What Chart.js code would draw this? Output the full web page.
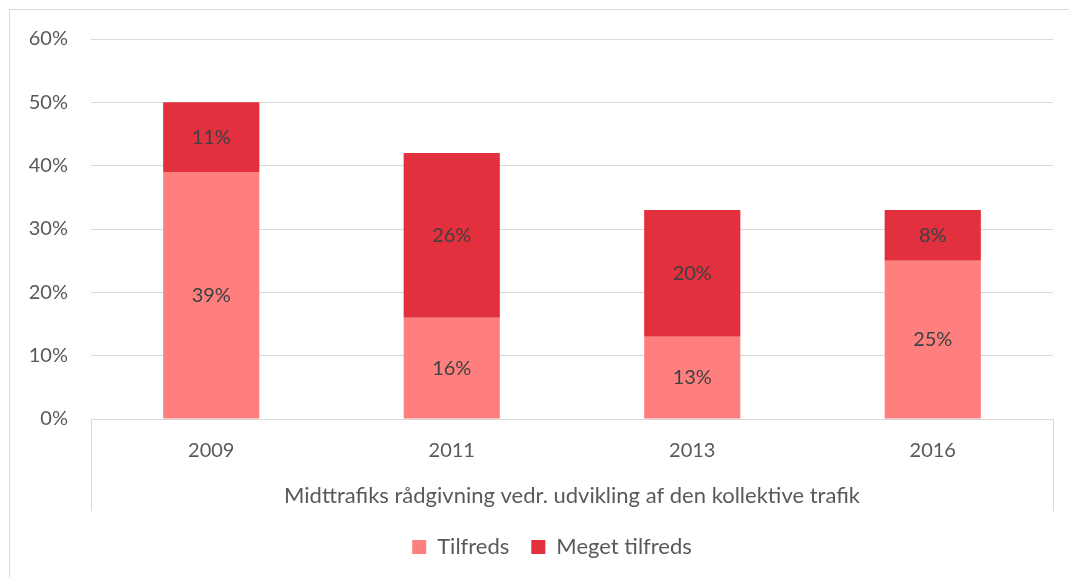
<!DOCTYPE html>
<html>
<head>
<meta charset="utf-8">
<script src="https://cdn.jsdelivr.net/npm/chart.js@4.4.0/dist/chart.umd.min.js"></script>
<style>
    html, body { margin: 0; padding: 0; background: #fff; overflow: hidden; }
    #wrap { position: relative; width: 1069px; height: 577px; }
    #frame { position: absolute; left: 9px; top: 9px; width: 1100px; height: 700px; border: 1px solid #d9d9d9; box-sizing: border-box; }
    canvas { position: absolute; left: 0; top: 0; }
</style>
</head>
<body>
<div id="wrap">
    <div id="frame"></div>
    <canvas id="chart" width="1069" height="577"></canvas>
</div>
<script>
const years = ['2009', '2011', '2013', '2016'];
const tilfreds = [39, 16, 13, 25];
const megetTilfreds = [11, 26, 20, 8];
const groupLabel = 'Midttrafiks rådgivning vedr. udvikling af den kollektive trafik';

const textColor = '#595959';
const gridColor = '#d9d9d9';

// values in the middle of each stacked segment
const segmentLabels = {
    id: 'segmentLabels',
    afterDatasetsDraw(chart) {
        const ctx = chart.ctx;
        ctx.save();
        ctx.font = '20px Lato';
        ctx.fillStyle = '#404040';
        ctx.textAlign = 'center';
        ctx.textBaseline = 'middle';
        chart.data.datasets.forEach((ds, i) => {
            chart.getDatasetMeta(i).data.forEach((bar, j) => {
                const p = bar.getProps(['x', 'y', 'base'], true);
                ctx.fillText(ds.data[j] + '%', p.x, (p.y + p.base) / 2);
            });
        });
        ctx.restore();
    }
};

// side lines of the category box below the plot
const categoryBox = {
    id: 'categoryBox',
    afterDraw(chart) {
        const x = chart.scales.x;
        const ctx = chart.ctx;
        ctx.save();
        ctx.strokeStyle = gridColor;
        ctx.lineWidth = 1;
        ctx.beginPath();
        ctx.moveTo(Math.round(x.left) + 0.5, x.top);
        ctx.lineTo(Math.round(x.left) + 0.5, x.bottom);
        ctx.moveTo(Math.round(x.right) + 0.5, x.top);
        ctx.lineTo(Math.round(x.right) + 0.5, x.bottom);
        ctx.stroke();
        ctx.restore();
    }
};

// Excel centres the legend on the whole frame, nudge it a bit right/down
const legendShift = {
    id: 'legendShift',
    afterLayout(chart) {
        const lg = chart.legend;
        lg.left += 21; lg.right += 21;
        lg.top += 3; lg.bottom += 3;
    }
};

new Chart(document.getElementById('chart'), {
    type: 'bar',
    data: {
        labels: years,
        datasets: [
            { label: 'Tilfreds', data: tilfreds, backgroundColor: '#ff7f7f', barPercentage: 0.4, categoryPercentage: 1 },
            { label: 'Meget tilfreds', data: megetTilfreds, backgroundColor: '#e3303e', barPercentage: 0.4, categoryPercentage: 1 }
        ]
    },
    options: {
        responsive: false,
        animation: false,
        layout: { padding: { left: 9, right: 16, top: 39, bottom: 12 } },
        scales: {
            x: {
                stacked: true,
                grid: { display: false },
                border: { display: false },
                ticks: { color: textColor, font: { family: 'Lato', size: 20 }, padding: 12 },
                title: { display: true, text: groupLabel, color: textColor, font: { family: 'Lato', size: 22 }, padding: { top: 4, bottom: 2 } },
                afterFit(scale) { scale.height = 92; }
            },
            y: {
                stacked: true,
                min: 0,
                max: 60,
                ticks: { stepSize: 10, color: textColor, font: { family: 'Lato', size: 20 }, padding: 23, callback: v => v + '%' },
                grid: { color: gridColor, drawTicks: false },
                border: { display: false },
                afterFit(scale) { scale.width = 82; }
            }
        },
        plugins: {
            legend: {
                position: 'bottom',
                labels: { color: textColor, font: { family: 'Lato', size: 22 }, boxWidth: 14, boxHeight: 14, padding: 22 }
            },
            tooltip: { enabled: false }
        }
    },
    plugins: [segmentLabels, categoryBox, legendShift]
});
</script>
</body>
</html>
